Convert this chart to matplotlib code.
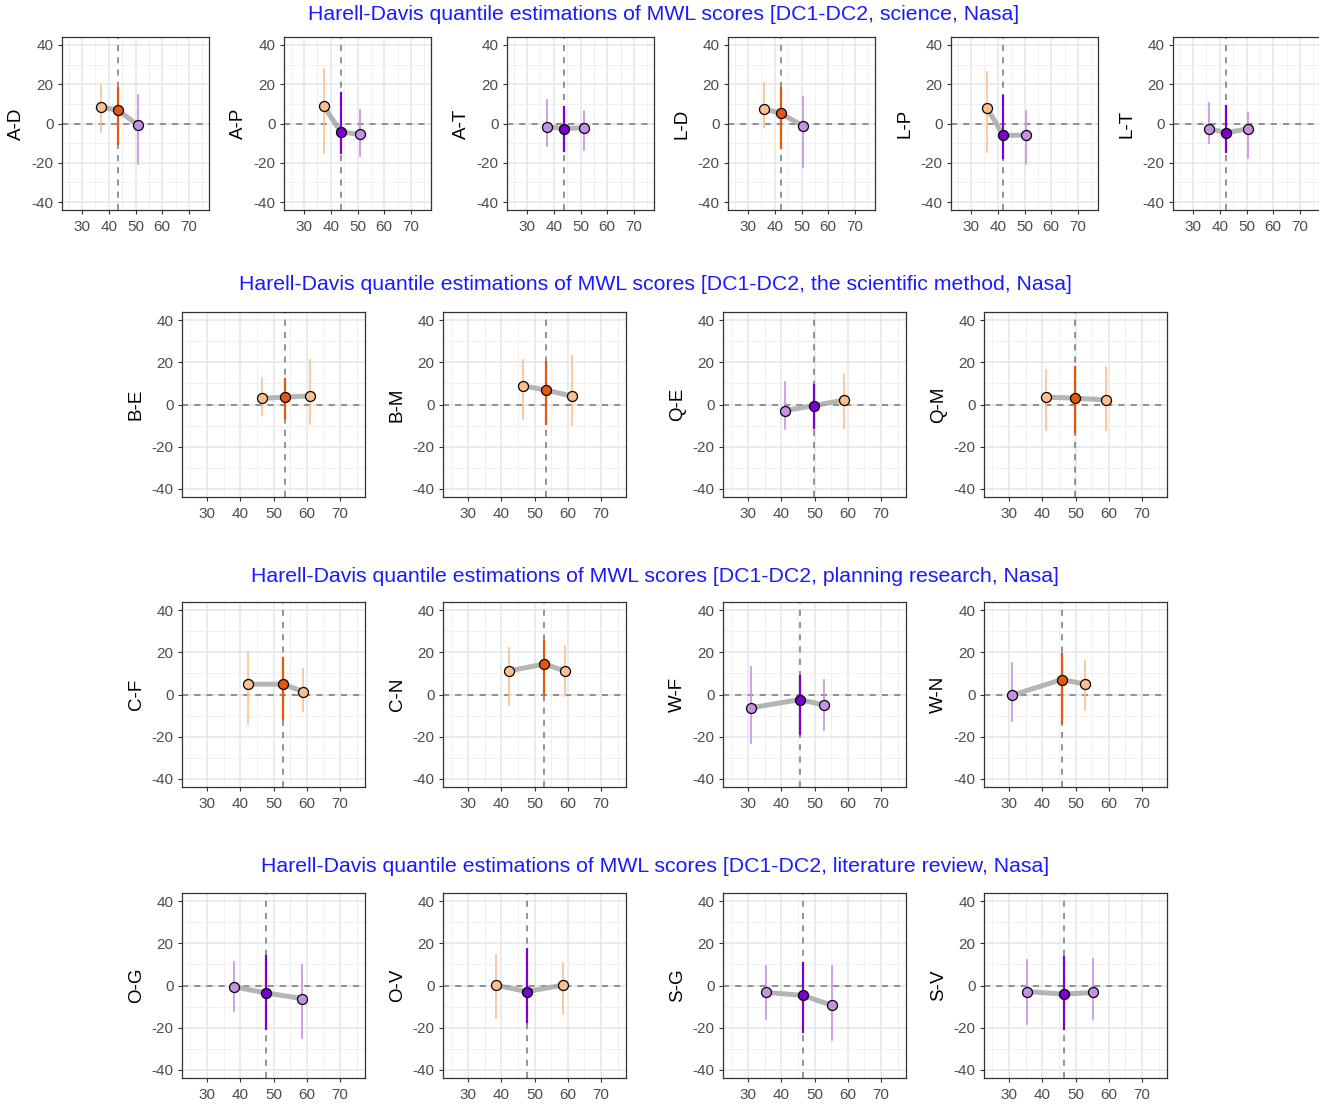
import matplotlib
matplotlib.use("Agg")
import matplotlib.pyplot as plt
import numpy as np

plt.rcParams['font.family'] = ['Liberation Sans', 'DejaVu Sans']
plt.rcParams['axes.unicode_minus'] = False

# ---------------- data ----------------
titles = [
    "Harell-Davis quantile estimations of MWL scores [DC1-DC2, science, Nasa]",
    "Harell-Davis quantile estimations of MWL scores [DC1-DC2, the scientific method, Nasa]",
    "Harell-Davis quantile estimations of MWL scores [DC1-DC2, planning research, Nasa]",
    "Harell-Davis quantile estimations of MWL scores [DC1-DC2, literature review, Nasa]",
]

# row 1: science
row1_labels = ["A-D", "A-P", "A-T", "L-D", "L-P", "L-T"]
row1_qx = [[37.0, 43.6, 50.8], [37.4, 43.8, 51.0], [37.3, 43.9, 51.2],
           [36.1, 42.2, 50.6], [36.0, 42.1, 50.6], [36.1, 42.3, 50.7]]
row1_diff = [[8.4, 6.7, -0.8], [8.8, -4.4, -5.5], [-1.6, -2.6, -2.1],
             [7.3, 5.2, -1.3], [7.8, -6.1, -5.9], [-2.6, -4.7, -2.6]]
row1_lo = [[-4.2, -10.2, -20.6], [-15.2, -15.2, -16.6], [-11.5, -14.1, -13.6],
           [-1.6, -12.4, -22.1], [-14.4, -17.5, -20.6], [-9.8, -14.6, -17.5]]
row1_hi = [[19.7, 18.0, 14.4], [27.7, 15.3, 6.9], [12.0, 8.6, 6.6],
           [20.5, 18.0, 13.7], [26.4, 14.1, 6.4], [10.3, 8.9, 5.5]]

# row 2: the scientific method
row2_labels = ["B-E", "B-M", "Q-E", "Q-M"]
row2_qx = [[46.5, 53.5, 61.0], [46.5, 53.6, 61.2], [41.0, 49.7, 59.0], [41.0, 49.8, 59.1]]
row2_diff = [[2.9, 3.5, 4.1], [8.9, 6.8, 4.0], [-2.9, -0.6, 2.2], [3.5, 3.0, 2.2]]
row2_lo = [[-5.2, -6.3, -9.2], [-6.8, -9.5, -9.6], [-11.5, -11.1, -11.2], [-12.0, -13.1, -12.0]]
row2_hi = [[12.6, 12.3, 21.2], [21.3, 20.1, 23.2], [10.6, 9.5, 14.7], [16.4, 18.0, 18.0]]

# row 3: planning research
row3_labels = ["C-F", "C-N", "W-F", "W-N"]
row3_qx = [[42.4, 52.9, 59.0], [42.4, 52.9, 59.2], [31.0, 45.7, 53.0], [31.0, 45.9, 53.0]]
row3_diff = [[4.9, 4.9, 1.3], [11.2, 14.5, 11.2], [-6.3, -2.4, -5.1], [-0.3, 7.1, 4.9]]
row3_lo = [[-14.2, -11.5, -7.9], [-5.2, 0.0, -0.5], [-23.1, -18.7, -16.8], [-12.6, -13.6, -7.3]]
row3_hi = [[20.2, 17.4, 12.3], [22.1, 25.3, 22.9], [13.0, 9.0, 7.0], [14.9, 19.3, 16.1]]

# row 4: literature review
row4_labels = ["O-G", "O-V", "S-G", "S-V"]
row4_qx = [[38.0, 47.6, 58.6], [38.3, 47.6, 58.7], [35.5, 46.5, 55.4], [35.4, 46.6, 55.4]]
row4_diff = [[-0.6, -3.5, -6.2], [0.2, -2.9, 0.2], [-3.3, -4.7, -9.5], [-2.9, -4.1, -3.3]]
row4_lo = [[-11.9, -20.6, -24.8], [-15.3, -17.4, -13.4], [-16.1, -22.1, -25.8], [-18.2, -20.6, -15.8]]
row4_hi = [[11.4, 13.9, 9.8], [14.7, 17.4, 10.6], [9.5, 10.8, 9.2], [11.9, 13.4, 12.6]]

rows = [
    (row1_labels, row1_qx, row1_diff, row1_lo, row1_hi),
    (row2_labels, row2_qx, row2_diff, row2_lo, row2_hi),
    (row3_labels, row3_qx, row3_diff, row3_lo, row3_hi),
    (row4_labels, row4_qx, row4_diff, row4_lo, row4_hi),
]

# ---------------- styling ----------------
W, H = 1319, 1107
DPI = 100
fig = plt.figure(figsize=(W / DPI, H / DPI), dpi=DPI)
fig.patch.set_facecolor("white")

DARK_OR = "#E6580B"
LIGHT_OR = "#FDBF90"
DARK_PU = "#7A00D4"
LIGHT_PU = "#C690E6"

row_geom = [
    dict(lefts=[62, 284, 507, 728, 951, 1173], width=147, top=37, bottom=210, title_y=14, title_x=664),
    dict(lefts=[182, 443, 723, 984], width=183, top=312, bottom=497, title_y=285, title_x=655),
    dict(lefts=[182, 443, 723, 984], width=183, top=602, bottom=787, title_y=576, title_x=655),
    dict(lefts=[182, 443, 723, 984], width=183, top=893, bottom=1078, title_y=866, title_x=655),
]


def add_panel(rect_px, label, qx, diff, lo, hi):
    l, t, w, h = rect_px
    ax = fig.add_axes([l / W, 1 - (t + h) / H, w / W, h / H])
    ax.set_xlim(22.5, 77.5)
    ax.set_ylim(-44, 44)
    ax.set_xticks([30, 40, 50, 60, 70])
    ax.set_yticks([-40, -20, 0, 20, 40])
    ax.set_xticks([25, 35, 45, 55, 65, 75], minor=True)
    ax.set_yticks([-30, -10, 10, 30], minor=True)
    ax.grid(which="major", color="#E8E8E8", lw=1.2, zorder=0)
    ax.grid(which="minor", color="#F0F0F0", lw=0.7, zorder=0)
    ax.set_axisbelow(True)
    ax.tick_params(which="major", length=3, width=0.8, color="#333333",
                   labelsize=11, labelcolor="#4D4D4D", pad=3)
    ax.tick_params(axis="x", which="major", pad=4)
    ax.tick_params(which="minor", length=0)
    for s in ax.spines.values():
        s.set_color("#333333")
        s.set_linewidth(0.9)
    ax.set_ylabel(label, fontsize=13.5, color="black", labelpad=5)

    med_x = qx[1]
    ax.axhline(0, color="#777777", lw=1.1, ls=(0, (4, 4)), zorder=1)
    ax.axvline(med_x, color="#777777", lw=1.1, ls=(0, (4, 4)), zorder=1)
    ax.plot(qx, diff, color="#A8A8A8", lw=3.6, solid_capstyle="round", alpha=0.85, zorder=2)
    for i in range(3):
        pos = diff[i] >= 0
        if i == 1:
            c = DARK_OR if pos else DARK_PU
            lw = 1.6
        else:
            c = LIGHT_OR if pos else LIGHT_PU
            lw = 1.2
        ax.plot([qx[i], qx[i]], [lo[i], hi[i]], color=c, lw=lw, zorder=3)
        ax.plot([qx[i]], [diff[i]], marker="o", ms=7.2, mfc=c, mec="black",
                mew=0.9, ls="none", zorder=4)
    return ax


for (labels, qx, diff, lo, hi), g, title in zip(rows, row_geom, titles):
    for j, lab in enumerate(labels):
        add_panel((g["lefts"][j], g["top"], g["width"], g["bottom"] - g["top"]),
                  lab, qx[j], diff[j], lo[j], hi[j])
    fig.text(g["title_x"] / W, 1 - g["title_y"] / H, title, color="#1A1AFF",
             fontsize=15.3, ha="center", va="center")

fig.savefig("out.png", dpi=DPI, facecolor="white")
